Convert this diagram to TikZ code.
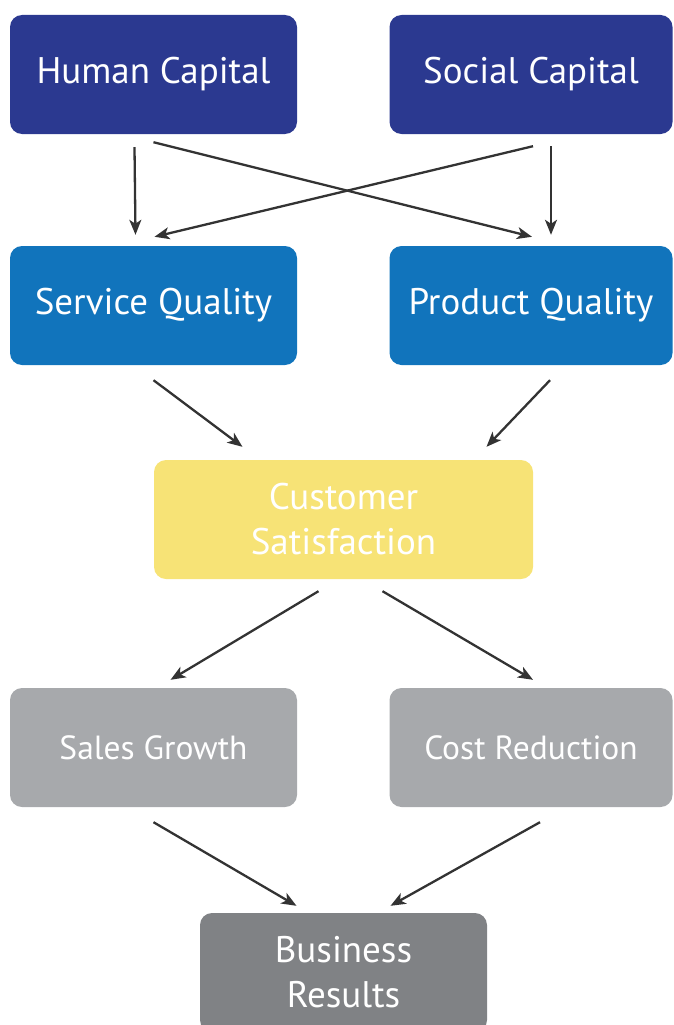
\documentclass[tikz,border=0pt]{standalone}
\usepackage{fontspec}
\setmainfont{PT Sans}
\usetikzlibrary{arrows.meta}
\definecolor{capblue}{HTML}{2B3990}
\definecolor{qualblue}{HTML}{1174BC}
\definecolor{satyellow}{HTML}{F7E376}
\definecolor{outgray}{HTML}{A7A9AC}
\definecolor{resgray}{HTML}{808285}
\definecolor{arrowgray}{HTML}{333333}

\begin{document}
\begin{tikzpicture}[x = 1pt, y = -1pt,
    box/.style = {rounded corners = 12pt, minimum width = 287pt, minimum height = 119pt, inner sep = 0pt, text = white, align = center, font = \fontsize{37}{45}\selectfont},
    arr/.style = {draw = arrowgray, line width = 2.3pt, -{Stealth[length = 15pt, width = 12pt, inset = 4pt]}}]
    \clip (0,0) rectangle (673,1025);
    % boxes
    \node[box, fill = capblue] (hc) at (153.5,74.5) {Human Capital};
    \node[box, fill = capblue, minimum width = 283pt] (sc) at (531,74.5) {Social Capital};
    \node[box, fill = qualblue] (sq) at (153.5,305.5) {Service Quality};
    \node[box, fill = qualblue, minimum width = 283pt] (pq) at (531,305.5) {Product Quality};
    \node[box, fill = satyellow, minimum width = 379pt] (cs) at (343.5,519.5) {Customer\\Satisfaction};
    \node[box, fill = outgray, font = \fontsize{33.5}{40}\selectfont] (sg) at (153.5,747.5) {Sales Growth};
    \node[box, fill = outgray, minimum width = 283pt, font = \fontsize{33.5}{40}\selectfont] (cr) at (531,747.5) {Cost Reduction};
    \node[box, fill = resgray] (br) at (343.5,972.5) {Business\\Results};
    % arrows
    \draw[arr] ([shift = {(-19,13)}]hc.south) -- ([shift = {(-18,-11)}]sq.north);
    \draw[arr] ([shift = {(0,8)}]hc.south) -- ([shift = {(1,-9)}]pq.north);
    \draw[arr] ([shift = {(2,12)}]sc.south) -- ([shift = {(1,-9)}]sq.north);
    \draw[arr] ([shift = {(20,12)}]sc.south) -- ([shift = {(20,-11)}]pq.north);
    \draw[arr] ([shift = {(0,15)}]sq.south) -- ([shift = {(-101,-13)}]cs.north);
    \draw[arr] ([shift = {(19,15)}]pq.south) -- ([shift = {(143,-13)}]cs.north);
    \draw[arr] ([shift = {(-25,12)}]cs.south) -- ([shift = {(17,-8)}]sg.north);
    \draw[arr] ([shift = {(39,12)}]cs.south) -- ([shift = {(2,-8)}]cr.north);
    \draw[arr] ([shift = {(0,15)}]sg.south) -- ([shift = {(-47,-7)}]br.north);
    \draw[arr] ([shift = {(9,15)}]cr.south) -- ([shift = {(47,-7)}]br.north);
\end{tikzpicture}
\end{document}
